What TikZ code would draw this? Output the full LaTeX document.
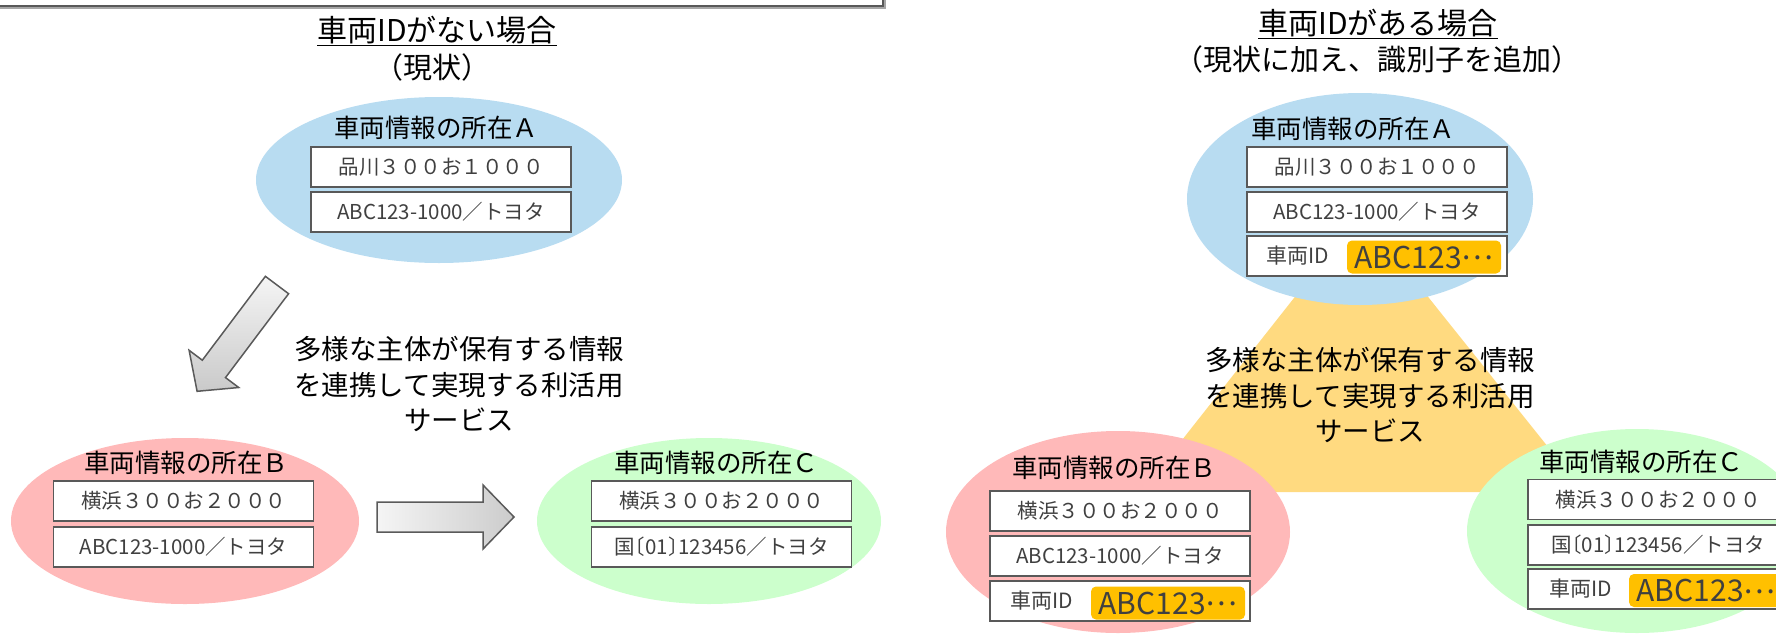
\documentclass[tikz,border=0pt]{standalone}
\usepackage{fontspec}
\setmainfont{Noto Sans CJK JP}
\usetikzlibrary{shapes.geometric}
\definecolor{ablue}{RGB}{184,220,241}
\definecolor{bpink}{RGB}{255,185,185}
\definecolor{cgreen}{RGB}{204,255,204}
\definecolor{triyellow}{RGB}{255,218,128}
\definecolor{idorange}{RGB}{255,192,0}
\definecolor{boxline}{RGB}{89,89,89}
\definecolor{txtgray}{RGB}{64,64,64}
\definecolor{arrline}{RGB}{90,90,90}
\newcommand{\middots}{\raisebox{0.28em}{…}}
\newcommand{\kokubr}{国\kern-0.5em〔01〕\kern-0.5em 123456／トヨタ}
\begin{document}
\begin{tikzpicture}[x=1pt,y=-1pt,
  site/.style={ellipse, inner sep=0pt, draw=none},
  lbl/.style={font=\fontsize{25.5}{30}\selectfont, text=black, inner sep=0pt},
  rec/.style={draw=boxline, line width=1.8pt, fill=white, minimum width=260pt, minimum height=40pt, inner sep=0pt, font=\fontsize{20.5}{24}\selectfont, text=txtgray},
  idtag/.style={fill=idorange, rounded corners=5pt, minimum width=154pt, minimum height=33pt, inner sep=0pt, font=\fontsize{30}{32}\selectfont, text=txtgray},
  idtxt/.style={font=\fontsize{21}{24}\selectfont, text=txtgray, inner sep=0pt},
  note/.style={font=\fontsize{27.5}{35.5}\selectfont, align=center, inner sep=0pt},
  ttl/.style={font=\fontsize{30}{34}\selectfont, inner sep=0pt},
  sub/.style={font=\fontsize{29}{34}\selectfont, inner sep=0pt},
  blockarrow/.style={draw=arrline, line width=1.5pt, line join=miter}
]
\useasboundingbox (0,0) rectangle (1776,635);
\clip (0,0) rectangle (1776,635);

% top frame
\draw[gray!70, line width=1.6pt] (-20,-20) rectangle (885,8);
\draw[boxline, line width=1.6pt] (-20,-20) rectangle (883,6);

% ---------------- left: without vehicle ID ----------------
\node[ttl] (tL) at (437,31) {\underline{車両IDがない場合}};
\node[sub] (sL) at (432,67) {（現状）};

\node[site, fill=ablue, minimum width=366pt, minimum height=166pt] (eLA) at (439,180) {};
\node[lbl] (lLA) at (436,128) {車両情報の所在Ａ};
\node[rec] (LA1) at (441,167) {品川３００お１０００};
\node[rec] (LA2) at (441,212) {ABC123-1000／トヨタ};

\draw[blockarrow, top color=gray!8, bottom color=gray!42]
  (265.4,276.3) -- (202.3,360.2) -- (189.1,350.3) -- (197.1,391.3)
  -- (238.7,387.5) -- (225.5,377.6) -- (288.6,293.7) -- cycle;

\node[note] (nL) at (459,384) {多様な主体が保有する情報\\を連携して実現する利活用\\サービス};

\node[site, fill=bpink, minimum width=348pt, minimum height=166pt] (eLB) at (185,521) {};
\node[lbl] (lLB) at (186,463) {車両情報の所在Ｂ};
\node[rec] (LB1) at (183.5,501) {横浜３００お２０００};
\node[rec] (LB2) at (183.5,547) {ABC123-1000／トヨタ};

\draw[blockarrow, left color=gray!8, right color=gray!40]
  (377,502) -- (483,502) -- (483,485) -- (514,517) -- (483,549) -- (483,532) -- (377,532) -- cycle;

\node[site, fill=cgreen, minimum width=344pt, minimum height=166pt] (eLC) at (709,521) {};
\node[lbl] (lLC) at (716,463) {車両情報の所在Ｃ};
\node[rec] (LC1) at (721.5,501) {横浜３００お２０００};
\node[rec] (LC2) at (721.5,547) {\kokubr};

% ---------------- right: with vehicle ID ----------------
\node[ttl] (tR) at (1378,24) {\underline{車両IDがある場合}};
\node[sub] (sR) at (1377,59) {（現状に加え、識別子を追加）};

\fill[triyellow] (1361,213) -- (1141,492) -- (1584,492) -- cycle;

\node[site, fill=ablue, minimum width=346pt, minimum height=212pt] (eRA) at (1360,199) {};
\node[lbl] (lRA) at (1353,129) {車両情報の所在Ａ};
\node[rec] (RA1) at (1377,167) {品川３００お１０００};
\node[rec] (RA2) at (1377,212) {ABC123-1000／トヨタ};
\node[rec] (RA3) at (1377,256) {};
\node[idtxt] (RA3a) at (1298,256) {車両ID};
\node[idtag] (RA3b) at (1424,257) {ABC123\middots};

\node[note] (nR) at (1370,395) {多様な主体が保有する情報\\を連携して実現する利活用\\サービス};

\node[site, fill=bpink, minimum width=344pt, minimum height=202pt] (eRB) at (1118,532) {};
\node[lbl] (lRB) at (1114,468) {車両情報の所在Ｂ};
\node[rec] (RB1) at (1120,511) {横浜３００お２０００};
\node[rec] (RB2) at (1120,556) {ABC123-1000／トヨタ};
\node[rec] (RB3) at (1120,601) {};
\node[idtxt] (RB3a) at (1042,601) {車両ID};
\node[idtag] (RB3b) at (1168,603) {ABC123\middots};

\node[site, fill=cgreen, minimum width=340pt, minimum height=204pt] (eRC) at (1637,531) {};
\node[lbl] (lRC) at (1641,462) {車両情報の所在Ｃ};
\node[rec] (RC1) at (1658,499.5) {横浜３００お２０００};
\node[rec] (RC2) at (1658,545) {\kokubr};
\node[rec] (RC3) at (1658,589) {};
\node[idtxt] (RC3a) at (1581,589) {車両ID};
\node[idtag] (RC3b) at (1706,590.5) {ABC123\middots};
\end{tikzpicture}
\end{document}
